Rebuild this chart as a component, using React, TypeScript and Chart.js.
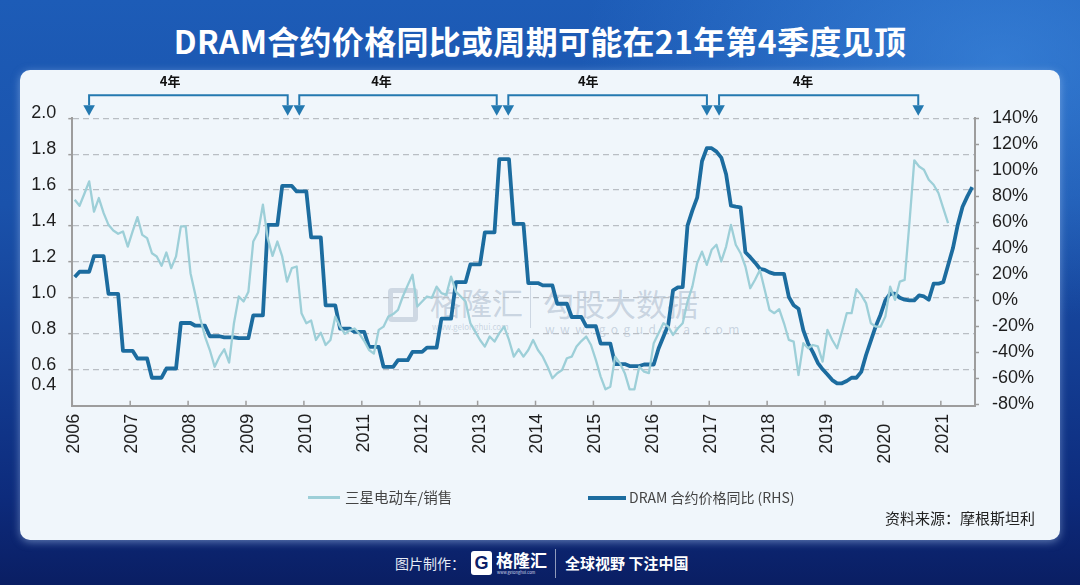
import React, { useEffect, useRef } from "react";
import { Chart, registerables } from "chart.js";

Chart.register(...registerables);

// ---------------- data ----------------
const startYear = 2006;
const yearTicks = [2006, 2007, 2008, 2009, 2010, 2011, 2012, 2013, 2014, 2015, 2016, 2017, 2018, 2019, 2020, 2021];
const leftTicks = [0.4, 0.6, 0.8, 1.0, 1.2, 1.4, 1.6, 1.8, 2.0];
const rightTicks = [-80, -60, -40, -20, 0, 20, 40, 60, 80, 100, 120, 140];

// 三星电动车/销售 (LHS), monthly from Jan 2006
const samsungRatio = [
  1.547, 1.513, 1.58, 1.649, 1.48, 1.556, 1.472, 1.407, 1.375, 1.357,
  1.37, 1.286, 1.37, 1.45, 1.351, 1.333, 1.249, 1.231, 1.179, 1.253,
  1.166, 1.231, 1.398, 1.398, 1.138, 1.017, 0.887, 0.785, 0.71, 0.617,
  0.673, 0.714, 0.64, 0.859, 1.008, 0.98, 1.035, 1.314, 1.364, 1.519,
  1.333, 1.234, 1.314, 1.231, 1.091, 1.166, 1.175, 0.915, 0.859, 0.874,
  0.766, 0.807, 0.738, 0.766, 0.896, 0.84, 0.8, 0.82, 0.83, 0.8,
  0.76, 0.71, 0.69, 0.822, 0.84, 0.896, 0.91, 0.933, 1.008, 1.07,
  1.129, 0.952, 0.98, 1.008, 1.0, 1.063, 1.027, 1.017, 1.119, 1.035,
  1.008, 0.98, 0.859, 0.812, 0.766, 0.729, 0.785, 0.757, 0.804, 0.84,
  0.766, 0.673, 0.714, 0.673, 0.71, 0.766, 0.71, 0.673, 0.617, 0.553,
  0.581, 0.599, 0.664, 0.673, 0.729, 0.76, 0.785, 0.738, 0.655, 0.562,
  0.491, 0.506, 0.673, 0.636, 0.581, 0.491, 0.491, 0.617, 0.59, 0.581,
  0.748, 0.804, 0.859, 0.84, 0.794, 0.831, 0.859, 0.98, 1.063, 1.194,
  1.258, 1.184, 1.268, 1.296, 1.203, 1.286, 1.407, 1.296, 1.249, 1.175,
  1.054, 1.101, 1.156, 1.045, 0.933, 0.915, 0.937, 0.859, 0.766, 0.757,
  0.571, 0.748, 0.72, 0.738, 0.73, 0.645, 0.822, 0.766, 0.72, 0.812,
  0.915, 0.915, 1.049, 1.017, 0.971, 0.859, 0.84, 0.84, 0.896, 1.063,
  0.989, 1.091, 1.1, 1.42, 1.766, 1.732, 1.714, 1.658, 1.63, 1.584,
  1.5, 1.417,
];

// DRAM 合约价格同比 (RHS, %), monthly from Jan 2006
const dramYoY = [
  18,
  22, 22, 22, 34, 34, 34, 5, 5, 5, -38.8, -38.8, -38.8,
  -44.7, -44.7, -44.7, -59.5, -59.5, -59.5, -52.4, -52.4, -52.4, -17.4, -17.4, -17.4,
  -19.5, -19.5, -19.5, -27.6, -27.6, -27.6, -28.5, -28.5, -28.5, -29, -29, -29,
  -11.5, -11.5, -11.5, 58, 58, 58, 88, 88, 88, 83.8, 83.8, 83.8,
  48.5, 48.5, 48.5, -3.8, -3.8, -3.8, -21.7, -21.7, -21.7, -24.3, -24.3, -24.3,
  -35.8, -35.8, -35.8, -51.1, -51.1, -51.1, -46, -46, -46, -39.6, -39.6, -39.6,
  -36.3, -36.3, -36.3, -14.1, -14.1, -14.1, 14, 14, 14, 27.6, 27.6, 27.6,
  52.3, 52.3, 52.3, 108.6, 108.6, 108.6, 58.8, 58.8, 58.8, 13.3, 13.3, 13.3,
  11.5, 11.5, 11.5, -2.6, -2.6, -2.6, -12.8, -12.8, -12.8, -19.9, -19.9, -19.9,
  -33.2, -33.2, -33.2, -49, -49, -49, -50.5, -50.5, -50.5, -49.3, -49.3, -49.3,
  -37, -28, -19, 7.7, 10, 10.2, 57.5, 69, 79, 107, 117, 117,
  114.4, 109.8, 97, 72.8, 72, 71.5, 37, 33.2, 29, 24.3, 23.5, 21.5,
  20.4, 20.4, 20.4, 2.6, -3.8, -6.4, -23, -33.2, -40, -48, -53, -57,
  -61.3, -63.8, -63.8, -62, -59.5, -59.5, -55, -42, -31, -20, -11, 0,
  5.1, 5.1, 2, 0.5, 0, 0, 3.8, 3, 0.5, 12.8, 12.8, 14,
  27, 40, 58, 72, 80, 87,
];

// 4-year cycle brackets (decimal years)
const cycleStarts = [2006.29, 2009.92, 2013.53, 2017.17];
const cycleEnds = [2009.72, 2013.33, 2016.96, 2020.61];
const cycleLabelYears = [2007.69, 2011.34, 2014.91, 2018.62];
const cycleLabel = "4年";

const samsungLabel = "三星电动车/销售";
const dramLabel = "DRAM 合约价格同比 (RHS)";
const titleText = "DRAM合约价格同比或周期可能在21年第4季度见顶";
const sourceText = "资料来源：摩根斯坦利";

// ---------------- styling ----------------
const LIGHT = "#9dcfd8";
const DARK = "#1c6c9f";
const ARROW = "#2479b0";
const AXIS = "#9d9d9d";
const TICK_FONT = { family: '"Liberation Sans", Arial, sans-serif', size: 18 };
const CJK = '"Noto Sans CJK SC", "Noto Sans", sans-serif';

const toSeries = (vals: number[]) =>
  vals.map((v, i) => ({ x: startYear + (i + 0.5) / 12, y: v }));

const overlayPlugin = {
  id: "cycleOverlay",
  afterDraw(chart: any) {
    const { ctx, chartArea } = chart;
    const xs = chart.scales.x;
    ctx.save();
    ctx.setLineDash([]);
    // inward year tick marks
    ctx.strokeStyle = AXIS;
    ctx.lineWidth = 1.5;
    yearTicks.forEach((yr) => {
      const px = xs.getPixelForValue(yr);
      ctx.beginPath();
      ctx.moveTo(px, chartArea.bottom);
      ctx.lineTo(px, chartArea.bottom - 5);
      ctx.stroke();
    });
    // cycle brackets
    const lineY = chartArea.top - 23;
    const headTop = chartArea.top - 13;
    const tipY = chartArea.top - 2.5;
    ctx.strokeStyle = ARROW;
    ctx.fillStyle = ARROW;
    ctx.lineWidth = 2;
    cycleStarts.forEach((s, i) => {
      const x1 = xs.getPixelForValue(s);
      const x2 = xs.getPixelForValue(cycleEnds[i]);
      ctx.beginPath();
      ctx.moveTo(x1, headTop);
      ctx.lineTo(x1, lineY);
      ctx.lineTo(x2, lineY);
      ctx.lineTo(x2, headTop);
      ctx.stroke();
      [x1, x2].forEach((x) => {
        ctx.beginPath();
        ctx.moveTo(x - 5.8, headTop);
        ctx.lineTo(x + 5.8, headTop);
        ctx.lineTo(x, tipY);
        ctx.closePath();
        ctx.fill();
      });
    });
    ctx.fillStyle = "#111";
    ctx.font = `bold 13px ${CJK}`;
    ctx.textAlign = "center";
    ctx.textBaseline = "middle";
    cycleLabelYears.forEach((yr) => {
      ctx.fillText(cycleLabel, xs.getPixelForValue(yr), chartArea.top - 37);
    });
    ctx.restore();
  },
};

export default function App() {
  const canvasRef = useRef<HTMLCanvasElement>(null);

  useEffect(() => {
    const canvas = canvasRef.current;
    if (!canvas) return;
    const chart = new Chart(canvas, {
      type: "line",
      data: {
        datasets: [
          {
            label: samsungLabel,
            data: toSeries(samsungRatio),
            yAxisID: "yL",
            borderColor: LIGHT,
            borderWidth: 2.3,
            pointRadius: 0,
            tension: 0,
            borderJoinStyle: "round",
          },
          {
            label: dramLabel,
            data: toSeries(dramYoY),
            yAxisID: "yR",
            borderColor: DARK,
            borderWidth: 3.8,
            pointRadius: 0,
            tension: 0,
            borderJoinStyle: "round",
          },
        ],
      },
      options: {
        animation: false,
        responsive: false,
        maintainAspectRatio: false,
        parsing: false as any,
        layout: { padding: { top: 48.3, left: 0, right: 0, bottom: 0 } },
        plugins: { legend: { display: false }, tooltip: { enabled: false } },
        scales: {
          x: {
            type: "linear",
            min: 2006,
            max: 2021.59,
            afterBuildTicks: (s: any) => {
              s.ticks = yearTicks.map((v) => ({ value: v }));
            },
            afterFit: (s: any) => {
              s.height = 134.3;
            },
            ticks: {
              autoSkip: false,
              maxRotation: 90,
              minRotation: 90,
              padding: 8,
              labelOffset: 2,
              color: "#1e1e1e",
              font: TICK_FONT,
              callback: (v: any) => (v === 2020 ? "2020  " : String(v)),
            },
            grid: { drawOnChartArea: false, drawTicks: false },
            border: { color: AXIS, width: 2 },
          },
          yL: {
            type: "linear",
            position: "left",
            min: 0.4,
            max: 2.0,
            afterBuildTicks: (s: any) => {
              s.ticks = leftTicks.map((v, i) => ({ value: i === 0 ? v + 0.09 : v }));
            },
            afterFit: (s: any) => {
              s.width = 52.3;
            },
            ticks: {
              padding: 12,
              labelOffset: -5,
              color: "#1e1e1e",
              font: TICK_FONT,
              callback: (_v: any, i: number) => leftTicks[i].toFixed(1),
            },
            grid: {
              color: (c: any) => (c.index === 0 ? "rgba(0,0,0,0)" : "#b9bec4"),
              lineWidth: 1.3,
              tickLength: 4,
              tickColor: (c: any) => (c.index === 0 ? "rgba(0,0,0,0)" : AXIS),
              tickBorderDash: [],
              tickWidth: 1.5,
            } as any,
            border: { color: AXIS, width: 2, dash: [6, 4] },
          },
          yR: {
            type: "linear",
            position: "right",
            min: -81,
            max: 140,
            afterBuildTicks: (s: any) => {
              s.ticks = rightTicks.map((v) => ({ value: v }));
            },
            afterFit: (s: any) => {
              s.width = 85;
            },
            ticks: {
              padding: 13,
              color: "#1e1e1e",
              font: TICK_FONT,
              callback: (v: any) => `${v}%`,
            },
            grid: {
              drawOnChartArea: false,
              tickLength: 4,
              tickColor: AXIS,
              tickWidth: 1.5,
            },
            border: { color: AXIS, width: 2 },
          },
        },
      } as any,
      plugins: [overlayPlugin],
    });
    return () => chart.destroy();
  }, []);

  const wm: React.CSSProperties = {
    position: "absolute",
    color: "rgba(140,158,182,0.4)",
    fontFamily: CJK,
    whiteSpace: "nowrap",
    pointerEvents: "none",
  };

  return (
    <div
      style={{
        position: "fixed",
        left: 0,
        top: 0,
        width: 1080,
        height: 585,
        overflow: "hidden",
        fontFamily: CJK,
        background:
          "radial-gradient(ellipse 420px 260px at 1000px 60px, rgba(70,150,235,0.55), rgba(70,150,235,0) 100%), linear-gradient(180deg, #1d5cb7 0%, #1a52ab 35%, #143f95 60%, #0d2b7c 85%, #0a1e63 100%)",
      }}
    >
      <div
        style={{
          position: "absolute",
          left: 0,
          top: 18,
          width: 1080,
          textAlign: "center",
          color: "#ffffff",
          fontSize: 32,
          fontWeight: 700,
          lineHeight: "44px",
          letterSpacing: 0.3,
        }}
      >
        {titleText}
      </div>

      <div
        style={{
          position: "absolute",
          left: 20,
          top: 70,
          width: 1040,
          height: 470,
          background: "#f0f6fb",
          borderRadius: 10,
          boxShadow: "0 2px 8px rgba(180,210,245,0.5)",
          overflow: "hidden",
        }}
      >
        {/* watermarks */}
        <div
          style={{
            ...wm,
            left: 368,
            top: 218,
            width: 30,
            height: 34,
            border: "5px solid rgba(140,158,182,0.34)",
            borderRadius: 4,
            boxSizing: "border-box",
          }}
        />
        <div style={{ ...wm, left: 410, top: 212, fontSize: 31, lineHeight: "40px" }}>格隆汇</div>
        <div style={{ ...wm, left: 412, top: 252, fontSize: 8, lineHeight: "10px" }}>www.gelonghui.com</div>
        <div
          style={{
            position: "absolute",
            left: 510,
            top: 216,
            width: 1,
            height: 42,
            background: "rgba(140,158,182,0.35)",
          }}
        />
        <div style={{ ...wm, left: 523, top: 213, fontSize: 31, lineHeight: "40px" }}>勾股大数据</div>
        <div style={{ ...wm, left: 525, top: 252, fontSize: 12, lineHeight: "14px", letterSpacing: 5.5 }}>
          www.gogudata.com
        </div>

        <canvas
          ref={canvasRef}
          width={1040}
          height={470}
          style={{ position: "absolute", left: 0, top: 0, width: 1040, height: 470 }}
        />

        {/* legend */}
        <div style={{ position: "absolute", left: 288, top: 426, width: 32, height: 3, background: LIGHT }} />
        <div
          style={{
            position: "absolute",
            left: 325,
            top: 417,
            fontSize: 14.5,
            lineHeight: "20px",
            color: "#444",
            whiteSpace: "nowrap",
          }}
        >
          {samsungLabel}
        </div>
        <div style={{ position: "absolute", left: 568, top: 426, width: 38, height: 4, background: DARK }} />
        <div
          style={{
            position: "absolute",
            left: 609,
            top: 417,
            fontSize: 14,
            lineHeight: "20px",
            color: "#444",
            whiteSpace: "nowrap",
          }}
        >
          {dramLabel}
        </div>
        <div
          style={{
            position: "absolute",
            right: 25,
            top: 437,
            fontSize: 15,
            lineHeight: "22px",
            color: "#222",
            whiteSpace: "nowrap",
          }}
        >
          {sourceText}
        </div>
      </div>

      {/* footer */}
      <div
        style={{
          position: "absolute",
          left: 395,
          top: 553,
          fontSize: 14,
          lineHeight: "20px",
          color: "#e6ebf5",
          whiteSpace: "nowrap",
        }}
      >
        图片制作：
      </div>
      <div
        style={{
          position: "absolute",
          left: 471,
          top: 551,
          width: 21,
          height: 24,
          background: "#ffffff",
          borderRadius: 3,
          color: "#0b2068",
          fontFamily: '"Liberation Sans", Arial, sans-serif',
          fontWeight: 700,
          fontSize: 18,
          lineHeight: "24px",
          textAlign: "center",
        }}
      >
        G
      </div>
      <div
        style={{
          position: "absolute",
          left: 496,
          top: 549,
          fontSize: 17,
          fontWeight: 700,
          lineHeight: "22px",
          color: "#ffffff",
          whiteSpace: "nowrap",
        }}
      >
        格隆汇
      </div>
      <div
        style={{
          position: "absolute",
          left: 497,
          top: 570,
          fontSize: 4,
          lineHeight: "5px",
          color: "#d0d8ea",
          whiteSpace: "nowrap",
        }}
      >
        www.gelonghui.com
      </div>
      <div style={{ position: "absolute", left: 555, top: 549, width: 1, height: 29, background: "rgba(255,255,255,0.55)" }} />
      <div
        style={{
          position: "absolute",
          left: 565,
          top: 552,
          fontSize: 15,
          fontWeight: 700,
          lineHeight: "22px",
          color: "#ffffff",
          whiteSpace: "nowrap",
        }}
      >
        全球视野 下注中国
      </div>
    </div>
  );
}
